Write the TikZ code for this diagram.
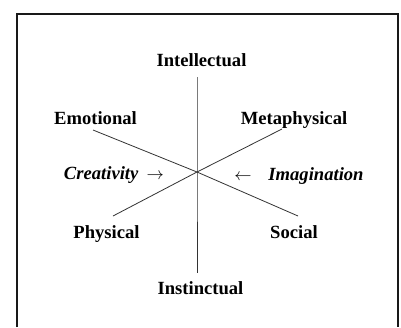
\documentclass[tikz,border=0pt]{standalone}
\usepackage{fontspec}
\setmainfont{Liberation Serif}
\usepackage{tikz}

\begin{document}
\begin{tikzpicture}[x=1pt, y=-1pt,
		axislabel/.style={anchor=base, inner sep=0pt, font=\fontsize{18.6}{22}\selectfont\bfseries},
		sidelabel/.style={anchor=base, inner sep=0pt, font=\fontsize{18.6}{22}\selectfont\bfseries\itshape},
		axisline/.style={line width=0.8pt, color=black!80}]
			%%%%% START %%%%%
			
			\useasboundingbox (0, 0) rectangle (401, 327);
			\fill[white] (0, 0) rectangle (401, 327);
			
			\draw[line width=2pt, color=black!90] (17, 327) -- (17, 14) -- (398, 14) -- (398, 327);
			
			\coordinate (center) at (197, 172);
			\coordinate (intellectualend) at (197, 77);
			\coordinate (instinctualend) at (197, 273);
			\coordinate (emotionalend) at (93, 130);
			\coordinate (socialend) at (298, 216);
			\coordinate (metaphysicalend) at (282, 129);
			\coordinate (physicalend) at (113, 216);
			
			\draw[axisline] (intellectualend) -- (center) -- (instinctualend);
			\draw[axisline] (emotionalend) -- (center) -- (socialend);
			\draw[axisline] (metaphysicalend) -- (center) -- (physicalend);
			
			\node[axislabel] (intellectual) at (201.5, 66) {Intellectual};
			\node[axislabel] (emotional) at (95.5, 124) {Emotional};
			\node[axislabel] (metaphysical) at (294, 124) {Metaphysical};
			\node[axislabel] (physical) at (106.5, 238) {Physical};
			\node[axislabel] (social) at (294, 238) {Social};
			\node[axislabel] (instinctual) at (200.5, 294) {Instinctual};
			
			\node[sidelabel] (creativity) at (114, 179) {Creativity\hspace{0.45em}$\rightarrow$};
			\node[sidelabel] (imagination) at (299, 180) {$\leftarrow$\hspace{0.9em}Imagination};
			
			%%%%% END %%%%%
		\end{tikzpicture}
\end{document}
